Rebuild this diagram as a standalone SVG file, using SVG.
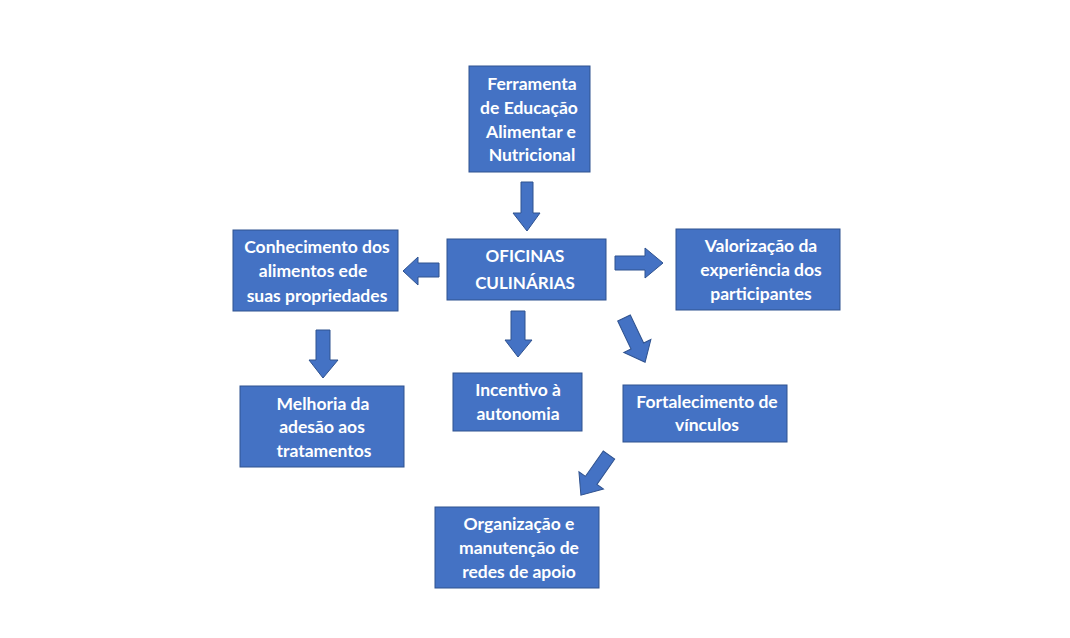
<svg xmlns="http://www.w3.org/2000/svg" width="1070" height="638" viewBox="0 0 1070 638">
<style>
.box{fill:#4472C4;stroke:#2F528F;stroke-width:1}
.arr{fill:#4472C4;stroke:#2F528F;stroke-width:1}
text{font-family:Lato,"Liberation Sans",sans-serif;font-weight:bold;font-size:17.5px;fill:#ffffff;text-anchor:middle}
text.c{font-size:17px}
</style>
<rect width="1070" height="638" fill="#ffffff"/>
<g id="connectors">
<path class="arr" d="M521,182 H533 V213 H540 L527,231 L513,213 H521 Z"/>
<path class="arr" d="M439,263 V277 H418 V285 L403,271 L418,257 V263 Z"/>
<path class="arr" d="M615,256 V270 H645 V278 L663,263 L645,248 V256 Z"/>
<path class="arr" d="M511,311 H525 V340 H532 L518,357 L505,340 H511 Z"/>
<path class="arr" d="M316,330 H330 V360 H338 L323,378 L309,360 H316 Z"/>
<path class="arr" transform="translate(624,318) rotate(64.5)" d="M0,-7 H31 V-15 L49,0 L31,15 V7 H0 Z"/>
<path class="arr" transform="translate(609,455) rotate(125)" d="M0,-7 H31 V-15 L49,0 L31,15 V7 H0 Z"/>
</g>
<g id="ferramenta">
<rect class="box" x="469" y="66" width="121" height="106"/>
<text x="532" y="90">Ferramenta</text>
<text x="529" y="114">de Educação</text>
<text x="531" y="138">Alimentar e</text>
<text x="532" y="161">Nutricional</text>
</g>
<g id="oficinas">
<rect class="box" x="447" y="239" width="159" height="61"/>
<text class="c" x="525" y="262">OFICINAS</text>
<text class="c" x="525" y="289">CULINÁRIAS</text>
</g>
<g id="conhecimento">
<rect class="box" x="233" y="230" width="165" height="81"/>
<text x="317" y="253">Conhecimento dos</text>
<text x="313" y="277">alimentos ede</text>
<text x="317" y="302">suas propriedades</text>
</g>
<g id="valorizacao">
<rect class="box" x="676" y="229" width="164" height="81"/>
<text x="761" y="252">Valorização da</text>
<text x="761" y="276">experiência dos</text>
<text x="761" y="300">participantes</text>
</g>
<g id="melhoria">
<rect class="box" x="240" y="386" width="164" height="81"/>
<text x="323" y="410">Melhoria da</text>
<text x="322" y="433">adesão aos</text>
<text x="324" y="457">tratamentos</text>
</g>
<g id="incentivo">
<rect class="box" x="453" y="373" width="129" height="58"/>
<text x="518" y="396">Incentivo à</text>
<text x="518" y="420">autonomia</text>
</g>
<g id="fortalecimento">
<rect class="box" x="623" y="385" width="164" height="57"/>
<text x="707" y="408">Fortalecimento de</text>
<text x="707" y="431">vínculos</text>
</g>
<g id="organizacao">
<rect class="box" x="435" y="507" width="164" height="81"/>
<text x="519" y="530">Organização e</text>
<text x="519" y="554">manutenção de</text>
<text x="519" y="578">redes de apoio</text>
</g>
</svg>
